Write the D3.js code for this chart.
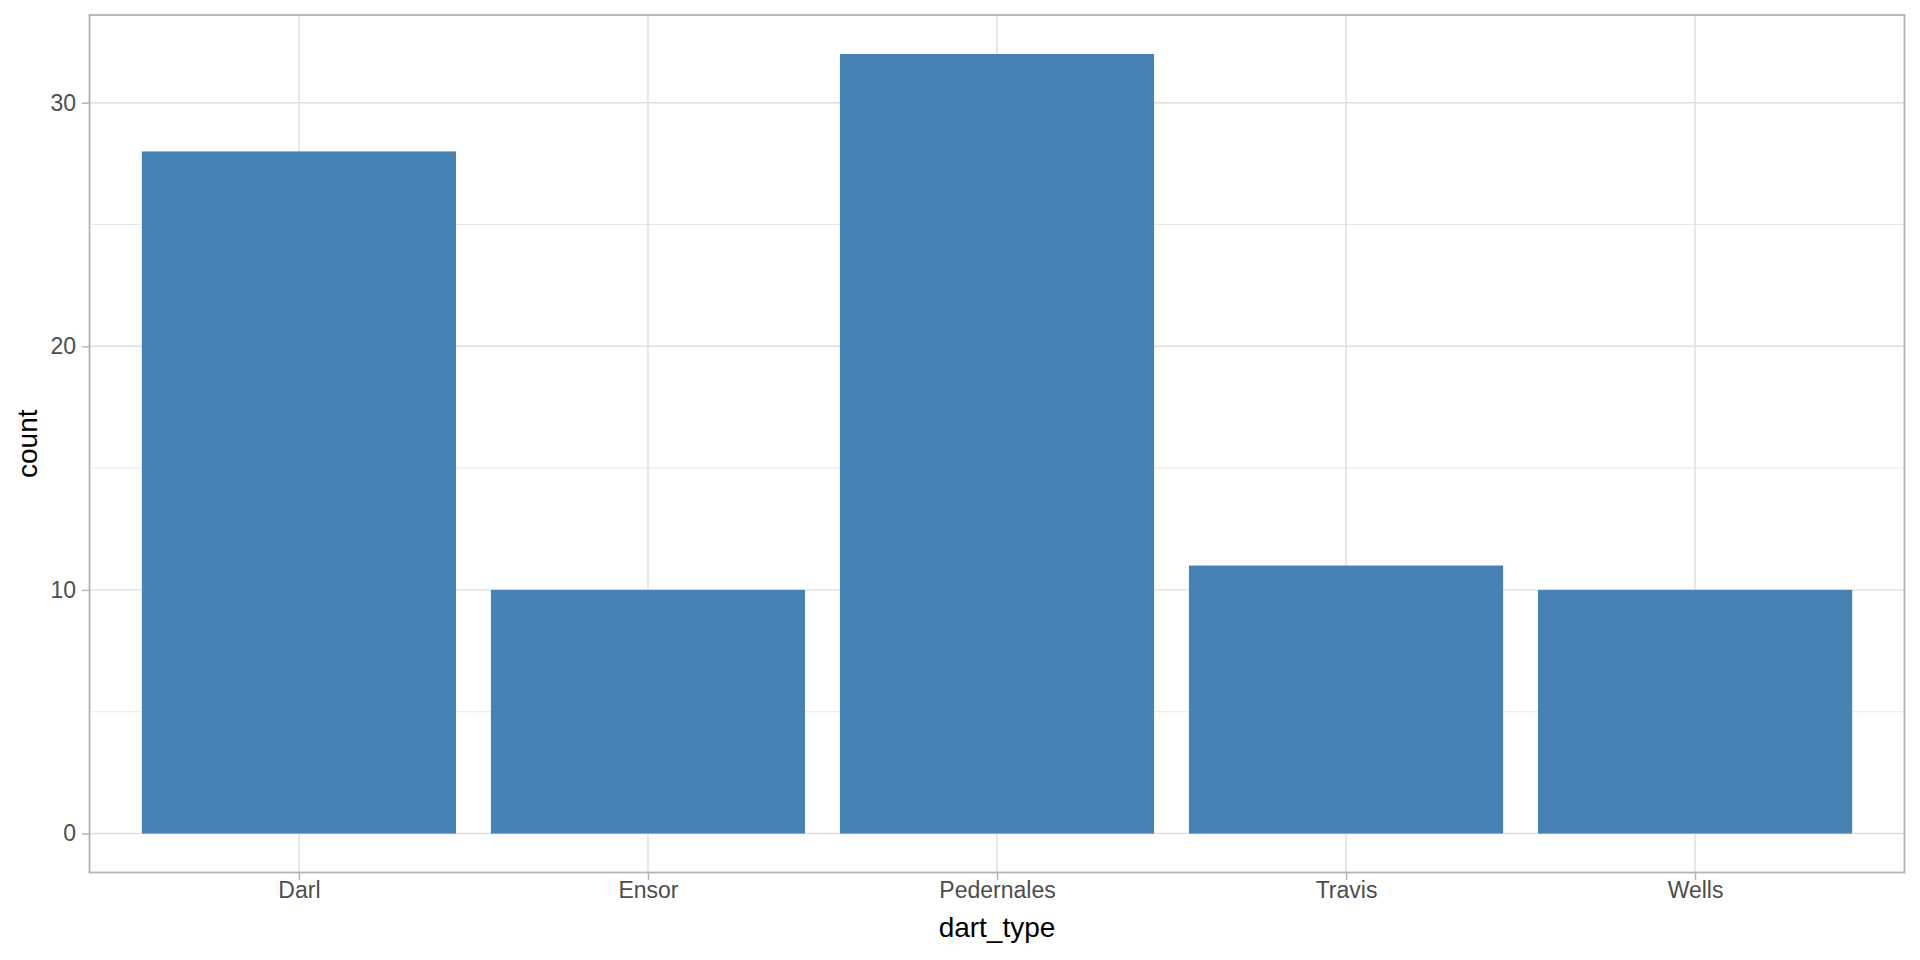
<!DOCTYPE html>
<html>
<head>
<meta charset="utf-8">
<script src="https://cdn.jsdelivr.net/npm/d3@7"></script>
<style>
  body { margin: 0; background: #fff; }
  text { font-family: "Liberation Sans", Arial, sans-serif; }
</style>
</head>
<body>
<div id="chart"></div>
<script>
// data
var dartTypes = ["Darl", "Ensor", "Pedernales", "Travis", "Wells"];
var counts = [28, 10, 32, 11, 10];
var yTicks = [0, 10, 20, 30];
var yMinorTicks = [5, 15, 25];

var svgWidth = 1920;
var svgHeight = 960;

// panel box
var margin = { top: 15, right: 15.5, bottom: 87.5, left: 89.5 };
var width = svgWidth - margin.left - margin.right;
var height = svgHeight - margin.top - margin.bottom;

var svg = d3.select("#chart")
    .append("svg")
    .attr("width", svgWidth)
    .attr("height", svgHeight);

var chartGroup = svg.append("g")
    .attr("transform", `translate(${margin.left}, ${margin.top})`);

// ggplot-like expansion: discrete 0.6 units, continuous 5%
var xScale = d3.scaleLinear()
    .domain([0.4, dartTypes.length + 0.6])
    .range([0, width]);

var yMax = d3.max(counts);
var yScale = d3.scaleLinear()
    .domain([-0.05 * yMax, yMax * 1.05])
    .range([height, 0]);

var barHalf = 0.45;

// minor grid
chartGroup.selectAll("line.minor")
    .data(yMinorTicks)
    .enter()
    .append("line")
    .attr("x1", 0).attr("x2", width)
    .attr("y1", d => yScale(d)).attr("y2", d => yScale(d))
    .attr("stroke", "#DEDEDE")
    .attr("stroke-width", 0.7);

// major grid
chartGroup.selectAll("line.majory")
    .data(yTicks)
    .enter()
    .append("line")
    .attr("x1", 0).attr("x2", width)
    .attr("y1", d => yScale(d)).attr("y2", d => yScale(d))
    .attr("stroke", "#DEDEDE")
    .attr("stroke-width", 1.4);

chartGroup.selectAll("line.majorx")
    .data(dartTypes)
    .enter()
    .append("line")
    .attr("x1", (d, i) => xScale(i + 1)).attr("x2", (d, i) => xScale(i + 1))
    .attr("y1", 0).attr("y2", height)
    .attr("stroke", "#DEDEDE")
    .attr("stroke-width", 1.4);

// bars
chartGroup.selectAll("rect.bar")
    .data(counts)
    .enter()
    .append("rect")
    .attr("x", (d, i) => xScale(i + 1 - barHalf))
    .attr("width", (d, i) => xScale(i + 1 + barHalf) - xScale(i + 1 - barHalf))
    .attr("y", d => yScale(d))
    .attr("height", d => yScale(0) - yScale(d))
    .attr("fill", "#4682B4");

// panel border
chartGroup.append("rect")
    .attr("x", 0).attr("y", 0)
    .attr("width", width).attr("height", height)
    .attr("fill", "none")
    .attr("stroke", "#B3B3B3")
    .attr("stroke-width", 1.8);

// axes
var bottomAxis = d3.axisBottom(xScale)
    .tickValues(d3.range(1, dartTypes.length + 1))
    .tickFormat(d => dartTypes[d - 1])
    .tickSizeInner(7.5).tickSizeOuter(0).tickPadding(5);

var leftAxis = d3.axisLeft(yScale)
    .tickValues(yTicks)
    .tickSizeInner(7.5).tickSizeOuter(0).tickPadding(6);

var xAxisG = chartGroup.append("g")
    .attr("transform", `translate(0, ${height})`)
    .call(bottomAxis);

var yAxisG = chartGroup.append("g")
    .call(leftAxis);

[xAxisG, yAxisG].forEach(function(g) {
    g.select(".domain").remove();
    g.selectAll(".tick line")
        .attr("stroke", "#B3B3B3")
        .attr("stroke-width", 1.4);
    g.selectAll(".tick text")
        .attr("fill", "#4D4D4D")
        .attr("font-size", "23px")
        .attr("font-family", "'Liberation Sans', Arial, sans-serif");
});

xAxisG.selectAll(".tick text").attr("dy", "0.71em").attr("y", 9);

// axis titles
svg.append("text")
    .attr("x", margin.left + width / 2)
    .attr("y", 937)
    .attr("text-anchor", "middle")
    .attr("font-size", "28px")
    .attr("fill", "#000")
    .text("dart_type");

svg.append("text")
    .attr("transform", `translate(37, ${margin.top + height / 2}) rotate(-90)`)
    .attr("text-anchor", "middle")
    .attr("font-size", "28px")
    .attr("fill", "#000")
    .text("count");
</script>
</body>
</html>
